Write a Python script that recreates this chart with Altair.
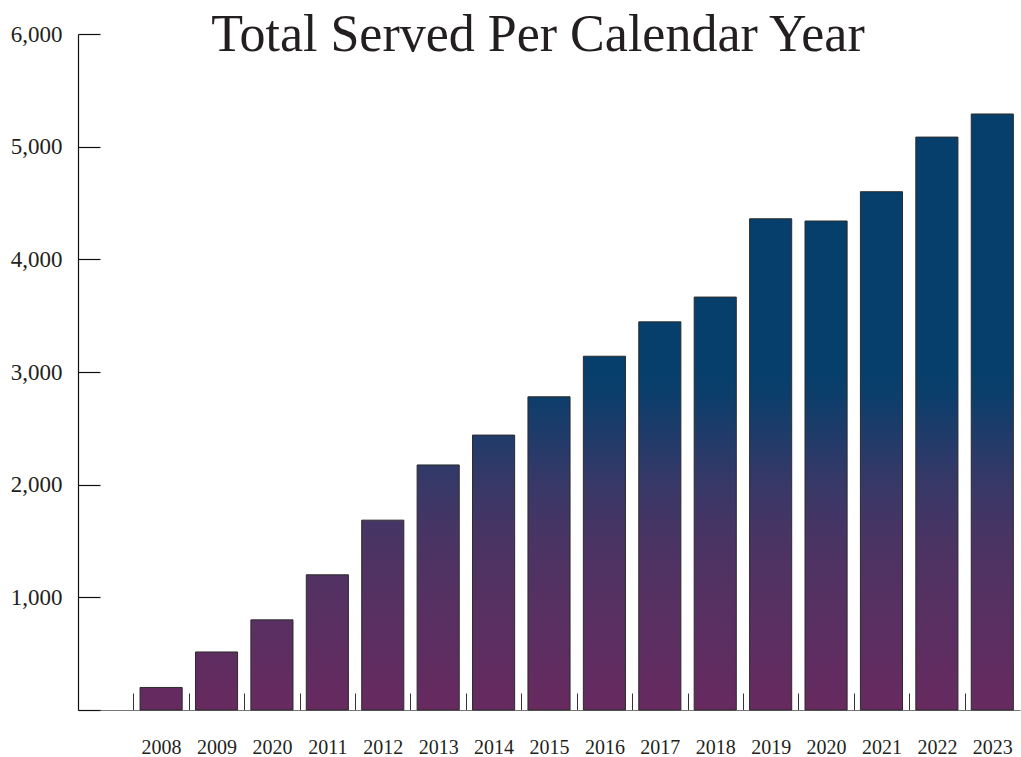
import altair as alt
import pandas as pd

# Data (first slot is an empty category)
slot_labels = ["", "2008", "2009", "2020", "2011", "2012", "2013", "2014", "2015",
               "2016", "2017", "2018", "2019", "2020", "2021", "2022", "2023"]
served = [None, 200, 515, 800, 1200, 1685, 2175, 2440, 2780,
          3140, 3445, 3665, 4360, 4340, 4600, 5085, 5290]
y_ticks = [0, 1000, 2000, 3000, 4000, 5000, 6000]

keys = [str(i) for i in range(len(slot_labels))]
df = pd.DataFrame({"key": keys, "label": slot_labels, "served": served})
bars_df = df.dropna()

# Gradient colours (bottom -> top, global over value range 0..GRAD_TOP)
GRAD_TOP = 3000
grad_offsets = [0.0, 0.333, 0.5, 0.667, 0.8, 0.933, 1.0]
grad_colors = ["#672a5f", "#553162", "#4a3464", "#383867", "#223b6a", "#0c3e6b", "#063f6b"]

PLOT_W, PLOT_H = 942, 676
half_step = PLOT_W / len(keys) / 2

label_array = "[" + ",".join("'%s'" % s for s in slot_labels) + "]"

x_enc = alt.X(
    "key:N",
    sort=keys,
    scale=alt.Scale(domain=keys, paddingInner=0.24, paddingOuter=0.12),
    axis=alt.Axis(
        title=None,
        labelExpr=label_array + "[datum.value]",
        labelAngle=0,
        labelFont="Liberation Serif",
        labelFontSize=20,
        labelColor="#231f20",
        labelPadding=44,
        tickOffset=-half_step,
        labelOffset=half_step,
        tickSize=alt.ExprRef(expr="-17"),
        tickColor="#333333",
        tickWidth=1,
        domainColor="#777777",
        domainWidth=1.2,
    ),
)
y_enc = alt.Y(
    "served:Q",
    scale=alt.Scale(domain=[0, 6000], nice=False),
    axis=alt.Axis(
        title=None,
        values=y_ticks,
        format=",.0f",
        labelExpr="datum.value == 0 ? '' : datum.label",
        labelFont="Liberation Serif",
        labelFontSize=23,
        labelColor="#231f20",
        labelPadding=38,
        tickSize=alt.ExprRef(expr="-22"),
        tickColor="#111111",
        tickWidth=1.2,
        domainColor="#111111",
        domainWidth=1.2,
        grid=False,
    ),
)

layers = []
for _, row in bars_df.iterrows():
    v = float(row["served"])
    grad = alt.LinearGradient(
        gradient="linear",
        stops=[alt.GradientStop(offset=o, color=c) for o, c in zip(grad_offsets, grad_colors)],
        x1=0, x2=0, y1=1, y2=(v - GRAD_TOP) / v,
    )
    layers.append(
        alt.Chart(bars_df)
        .transform_filter(alt.datum.key == row["key"])
        .mark_bar(color=grad, stroke="#2b2b2b", strokeWidth=1)
        .encode(x=x_enc, y=y_enc)
    )

chart = (
    alt.layer(*layers)
    .properties(
        width=PLOT_W,
        height=PLOT_H,
        autosize=alt.AutoSizeParams(type="none"),
        padding={"left": 78, "top": 34, "right": 1, "bottom": 47},
        title=alt.TitleParams(
            "Total Served Per Calendar Year",
            font="Liberation Serif",
            fontSize=52,
            fontWeight="normal",
            color="#231f20",
            anchor="middle",
            baseline="alphabetic",
            offset=0,
            dy=80,
            dx=-11,
        ),
    )
    .configure(background="white")
    .configure_view(strokeWidth=0)
)

chart.save("out.html", embed_options={"renderer": "svg", "actions": False})
